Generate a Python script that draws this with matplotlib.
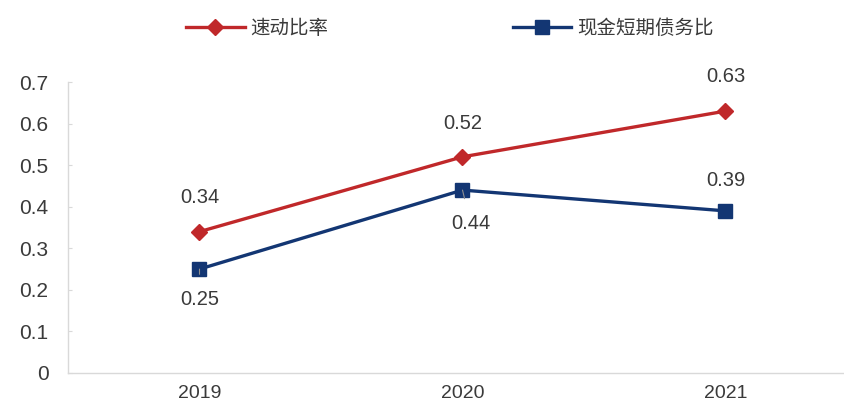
import matplotlib
matplotlib.use("Agg")
import matplotlib.pyplot as plt

plt.rcParams['font.family'] = ['Liberation Sans', 'Noto Sans CJK SC', 'DejaVu Sans']

years = ["2019", "2020", "2021"]
quick_ratio = [0.34, 0.52, 0.63]
cash_debt_ratio = [0.25, 0.44, 0.39]
series_names = ["速动比率", "现金短期债务比"]
yticks = [0, 0.1, 0.2, 0.3, 0.4, 0.5, 0.6, 0.7]
ytick_labels = ["0", "0.1", "0.2", "0.3", "0.4", "0.5", "0.6", "0.7"]

red = "#C0282A"
blue = "#133673"
txt = "#3a3a3a"

fig = plt.figure(figsize=(8.45, 4.07), dpi=100)
ax = fig.add_axes([68/845, 34/407, 789/845, 291/407])
x = list(range(len(years)))

l1, = ax.plot(x, quick_ratio, color=red, lw=2.4, marker="D", ms=8.5,
              markerfacecolor=red, markeredgecolor=red, label=series_names[0])
l2, = ax.plot(x, cash_debt_ratio, color=blue, lw=2.4, marker="s", ms=9.5,
              markerfacecolor=blue, markeredgecolor=blue, label=series_names[1])

ax.set_xlim(-0.5, len(years) - 0.5)
ax.set_ylim(0, 0.7)
ax.set_xticks(x)
ax.set_xticklabels(years, fontsize=14, color=txt)
ax.set_yticks(yticks)
ax.set_yticklabels(ytick_labels, fontsize=15, color=txt)
for s in ["top", "right"]:
    ax.spines[s].set_visible(False)
for s in ["left", "bottom"]:
    ax.spines[s].set_color("#d9d9d9")
    ax.spines[s].set_linewidth(1.0)
ax.tick_params(axis="y", direction="in", length=3, color="#d9d9d9", pad=14)
ax.tick_params(axis="x", length=0, pad=9)

# data labels
red_off = [(0, 34), (0, 33), (0, 35)]
for i, v in enumerate(quick_ratio):
    ax.annotate(f"{v:.2f}", (x[i], v), xytext=red_off[i], textcoords="offset pixels",
                ha="center", va="center", fontsize=14.5, color=txt)
blue_off = [(0, -30), (8, -33), (0, 30)]
for i, v in enumerate(cash_debt_ratio):
    ap = None
    if i < 2:
        ap = dict(arrowstyle="-", color="#909090", lw=0.8, shrinkA=9, shrinkB=0)
    ax.annotate(f"{v:.2f}", (x[i], v), xytext=blue_off[i], textcoords="offset pixels",
                ha="center", va="center", fontsize=14.5, color=txt, arrowprops=ap)

fig.legend(handles=[l1, l2], loc="center", bbox_to_anchor=(450/845, 1 - 28/407),
           ncol=2, frameon=False, handlelength=3.0, handletextpad=0.3,
           columnspacing=9.5, prop={'family': ['Noto Sans CJK SC'], 'size': 14},
           labelcolor=txt)

fig.savefig("out.png", dpi=100)
